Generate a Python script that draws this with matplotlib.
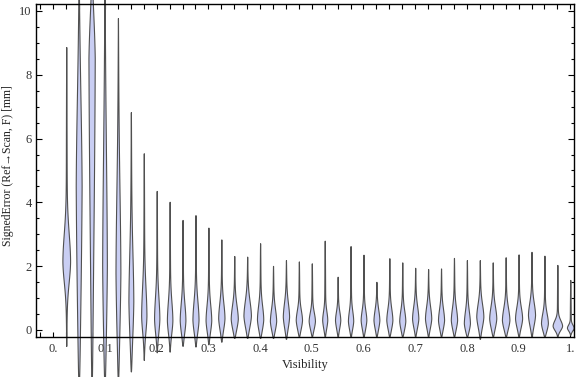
import numpy as np
import matplotlib
matplotlib.use("Agg")
import matplotlib.pyplot as plt
from matplotlib.ticker import MultipleLocator, FixedLocator

plt.rcParams['font.family'] = ['Liberation Serif', 'DejaVu Serif']

visibility = [0.025, 0.05, 0.075, 0.1, 0.125, 0.15, 0.175, 0.2, 0.225, 0.25,
              0.275, 0.3, 0.325, 0.35, 0.375, 0.4, 0.425, 0.45, 0.475, 0.5,
              0.525, 0.55, 0.575, 0.6, 0.625, 0.65, 0.675, 0.7, 0.725, 0.75,
              0.775, 0.8, 0.825, 0.85, 0.875, 0.9, 0.925, 0.95, 0.975, 1.0]
# minimum / maximum of each distribution (mm)
err_min = [-0.5, -1.7, -1.7, -1.7, -1.6, -1.3, -0.94, -0.7, -0.68, -0.5,
           -0.52, -0.45, -0.37, -0.25, -0.25, -0.25, -0.25, -0.28, -0.2, -0.2,
           -0.2, -0.2, -0.2, -0.2, -0.2, -0.2, -0.2, -0.2, -0.2, -0.2,
           -0.2, -0.2, -0.28, -0.2, -0.2, -0.2, -0.2, -0.2, -0.2, -0.15]
err_max = [8.87, 10.8, 10.9, 10.8, 9.78, 6.83, 5.54, 4.36, 4.02, 3.45,
           3.6, 3.21, 2.84, 2.32, 2.30, 2.72, 2.01, 2.19, 2.15, 2.09,
           2.80, 1.67, 2.63, 2.36, 1.51, 2.25, 2.12, 1.95, 1.91, 1.93,
           2.26, 2.19, 2.19, 2.12, 2.28, 2.37, 2.45, 2.33, 2.04, 1.57]
# mode (location of the density peak)
err_mode = [2.15, 4.5, 8.5, 2.0, 1.8, 0.9, 0.45, 0.35, 0.3, 0.3,
            0.32, 0.3, 0.37, 0.35, 0.45, 0.33, 0.28, 0.42, 0.31, 0.28,
            0.31, 0.31, 0.28, 0.31, 0.31, 0.31, 0.28, 0.36, 0.36, 0.31,
            0.31, 0.21, 0.42, 0.36, 0.31, 0.36, 0.47, 0.21, 0.13, 0.07]
# spread of the density above / below the mode
spread_up = [0.9, 3.2, 1.6, 4.0, 2.8, 1.6, 0.9, 0.7, 0.6, 0.55,
             0.6, 0.5, 0.5, 0.45, 0.5, 0.45, 0.4, 0.45, 0.32, 0.28,
             0.28, 0.28, 0.32, 0.32, 0.35, 0.37, 0.35, 0.4, 0.4, 0.38,
             0.4, 0.4, 0.42, 0.4, 0.4, 0.37, 0.4, 0.32, 0.18, 0.1]
spread_dn = [0.7, 5.0, 7.0, 3.0, 2.3, 1.3, 0.55, 0.5, 0.45, 0.45,
             0.45, 0.4, 0.4, 0.38, 0.42, 0.38, 0.33, 0.4, 0.33, 0.3,
             0.3, 0.3, 0.3, 0.33, 0.33, 0.33, 0.33, 0.33, 0.33, 0.33,
             0.33, 0.3, 0.38, 0.36, 0.33, 0.33, 0.38, 0.28, 0.15, 0.1]
# relative peak density
peak = [3.3, 2.4, 2.6, 1.8, 1.9, 1.9, 2.1, 2.1, 2.2, 2.3,
        2.5, 2.3, 2.6, 3.0, 3.2, 2.6, 2.6, 2.6, 2.6, 2.6,
        2.0, 2.1, 2.1, 2.3, 2.4, 2.5, 2.5, 2.6, 2.6, 2.5,
        2.6, 2.5, 3.0, 3.0, 3.2, 3.0, 3.0, 2.9, 4.2, 2.8]

x_ticks = [0.0, 0.1, 0.2, 0.3, 0.4, 0.5, 0.6, 0.7, 0.8, 0.9, 1.0]
x_labels = ['0.', '0.1', '0.2', '0.3', '0.4', '0.5', '0.6', '0.7', '0.8', '0.9', '1.']
y_ticks = [0, 2, 4, 6, 8, 10]

fig = plt.figure(figsize=(5.76, 3.77), dpi=100)
ax = fig.add_axes([36/576, 1-337.3/377, (574-36)/576, (337.3-4.3)/377])
ax.set_xlim(-0.0335, 1.0072)
ax.set_ylim(-0.229, 10.21)

px = 1.0/517.0  # data width of one pixel
fill_c = '#c9cef3'
edge_c = '#505050'
for xv, lo, hi, c, su, sd, pk in zip(visibility, err_min, err_max, err_mode,
                                     spread_up, spread_dn, peak):
    y = np.linspace(lo, hi, 600)
    s = np.where(y >= c, su, sd)
    body = pk * np.exp(-0.5 * ((y - c) / s) ** 2)
    frac = np.where(y >= c, (hi - y) / (hi - c), (y - lo) / (c - lo))
    frac = np.clip(frac, 0, 1)
    tail = 0.55 * frac ** 0.6
    hw = (body * frac ** 0.3 + tail) * px
    ax.fill_betweenx(y, xv - hw, xv + hw, facecolor=fill_c, edgecolor=edge_c,
                     linewidth=0.8, clip_on=False, zorder=2)

for sp in ax.spines.values():
    sp.set_linewidth(1.0)
    sp.set_color('black')
    sp.set_zorder(3)

ax.xaxis.set_major_locator(FixedLocator(x_ticks))
ax.set_xticklabels(x_labels)
ax.xaxis.set_minor_locator(MultipleLocator(0.025))
ax.yaxis.set_major_locator(FixedLocator(y_ticks))
ax.yaxis.set_minor_locator(MultipleLocator(0.5))
ax.tick_params(axis='x', which='both', direction='in', top=True, bottom=True,
               length=3.3, width=0.8, labelsize=9, pad=4, labelcolor='#333333')
ax.tick_params(axis='y', which='major', direction='in', left=True, right=True,
               length=4.2, width=0.8, labelsize=9, pad=3, labelcolor='#333333')
ax.tick_params(axis='y', which='minor', direction='in', left=True, right=True,
               length=2.2, width=0.8)

ax.set_xlabel('Visibility', fontsize=9, color='#222222', labelpad=3)
ax.set_ylabel('SignedError (Ref\u2192Scan, F) [mm]', fontsize=8.5, color='#222222')
ax.yaxis.set_label_coords(-0.041, 0.515)

fig.savefig('out.png', dpi=100)
